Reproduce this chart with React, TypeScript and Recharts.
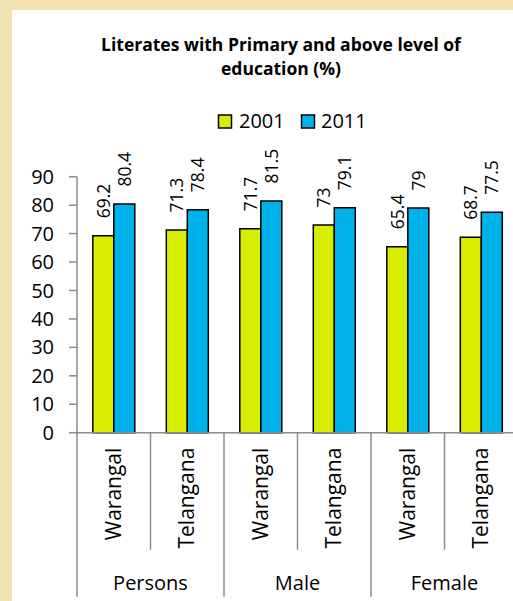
import React from 'react';
import { BarChart, Bar, XAxis, YAxis, LabelList } from 'recharts';

const groups = ['Persons', 'Male', 'Female'];
const categories = ['Warangal', 'Telangana', 'Warangal', 'Telangana', 'Warangal', 'Telangana'];
const categoryGroups = ['Persons', 'Persons', 'Male', 'Male', 'Female', 'Female'];
const values2001 = [69.2, 71.3, 71.7, 73, 65.4, 68.7];
const values2011 = [80.4, 78.4, 81.5, 79.1, 79, 77.5];
const seriesNames = ['2001', '2011'];
const yTicks = [0, 10, 20, 30, 40, 50, 60, 70, 80, 90];
const titleLines = ['Literates with Primary and above level of', 'education (%)'];

const data = categories.map((c, i) => ({
  name: c,
  group: categoryGroups[i],
  v2001: values2001[i],
  v2011: values2011[i],
}));

const FONT = '"Open Sans", "Noto Sans", sans-serif';
const AXIS = '#8c8c8c';
const YELLOW = '#d8ed00';
const BLUE = '#00b2ea';
const CHART_W = 530;
const CHART_H = 601;
const MARGIN = { top: 176.7, right: 12, left: 0, bottom: 0 };
const Y_W = 77;
const X_H = 168.3;
const BAND = (CHART_W - Y_W - MARGIN.right) / categories.length;

const InnerTick = (props: any) => {
  const { x, y, payload, index } = props;
  const left = x - BAND / 2;
  const groupStart = index % 2 === 0;
  const last = index === categories.length - 1;
  return (
    <g>
      <line x1={left} x2={left} y1={y} y2={y + (groupStart ? 164 : 117)} stroke={AXIS} strokeWidth={1.5} />
      {last && (
        <line x1={x + BAND / 2} x2={x + BAND / 2} y1={y} y2={y + 164} stroke={AXIS} strokeWidth={1.5} />
      )}
      <text
        transform={`translate(${x + 7},${y + 15}) rotate(-90)`}
        textAnchor="end"
        fontSize={21}
        fontFamily={FONT}
        fill="#000"
      >
        {payload.value}
      </text>
      {groupStart && (
        <text x={x + BAND / 2} y={y + 157} textAnchor="middle" fontSize={20} fontFamily={FONT} fill="#000">
          {groups[index / 2]}
        </text>
      )}
    </g>
  );
};

const ValueLabel = (props: any) => {
  const { x, y, width, value } = props;
  const cx = Number(x) + Number(width) / 2 + 6.5;
  const ty = Number(y) - 17.5;
  return (
    <text
      transform={`translate(${cx},${ty}) rotate(-90)`}
      textAnchor="start"
      fontSize={17.5}
      fontFamily={FONT}
      fill="#000"
    >
      {value}
    </text>
  );
};

export default function App() {
  return (
    <div
      style={{
        position: 'absolute',
        left: 0,
        top: 0,
        width: 513,
        height: 601,
        overflow: 'hidden',
        background: '#efe4b0',
      }}
    >
      <div style={{ position: 'absolute', left: 12, top: 10, width: 520, height: 600, background: '#fff' }} />
      <svg style={{ position: 'absolute', left: 0, top: 0 }} width={513} height={601}>
        {titleLines.map((t, i) => (
          <text
            key={i}
            x={281}
            y={50.5 + i * 24.5}
            textAnchor="middle"
            fontSize={17.5}
            fontWeight="bold"
            fontFamily={FONT}
            fill="#000"
          >
            {t}
          </text>
        ))}
        <rect x={218.5} y={115} width={13} height={13} fill={YELLOW} stroke="#000" strokeWidth={1.5} />
        <text x={239} y={128} fontSize={20} fontFamily={FONT} fill="#000">
          {seriesNames[0]}
        </text>
        <rect x={301.5} y={115} width={13} height={13} fill={BLUE} stroke="#000" strokeWidth={1.5} />
        <text x={321} y={128} fontSize={20} fontFamily={FONT} fill="#000">
          {seriesNames[1]}
        </text>
      </svg>
      <div style={{ position: 'absolute', left: 0, top: 0 }}>
        <BarChart width={CHART_W} height={CHART_H} data={data} margin={MARGIN} barCategoryGap="21.5%" barGap={0}>
          <YAxis
            type="number"
            domain={[0, 90]}
            ticks={yTicks}
            interval={0}
            width={Y_W}
            axisLine={{ stroke: AXIS, strokeWidth: 1.5 }}
            tickLine={{ stroke: AXIS, strokeWidth: 1.5 }}
            tickSize={8}
            tickMargin={15}
            tick={{ fontSize: 20, fontFamily: FONT, fill: '#000' }}
          />
          <XAxis
            dataKey="name"
            type="category"
            interval={0}
            height={X_H}
            tickSize={0}
            tickMargin={0}
            tickLine={false}
            axisLine={{ stroke: AXIS, strokeWidth: 1.5 }}
            tick={<InnerTick />}
          />
          <Bar dataKey="v2001" name={seriesNames[0]} fill={YELLOW} stroke="#000" strokeWidth={1.5} isAnimationActive={false}>
            <LabelList dataKey="v2001" content={<ValueLabel />} />
          </Bar>
          <Bar dataKey="v2011" name={seriesNames[1]} fill={BLUE} stroke="#000" strokeWidth={1.5} isAnimationActive={false}>
            <LabelList dataKey="v2011" content={<ValueLabel />} />
          </Bar>
        </BarChart>
      </div>
    </div>
  );
}
